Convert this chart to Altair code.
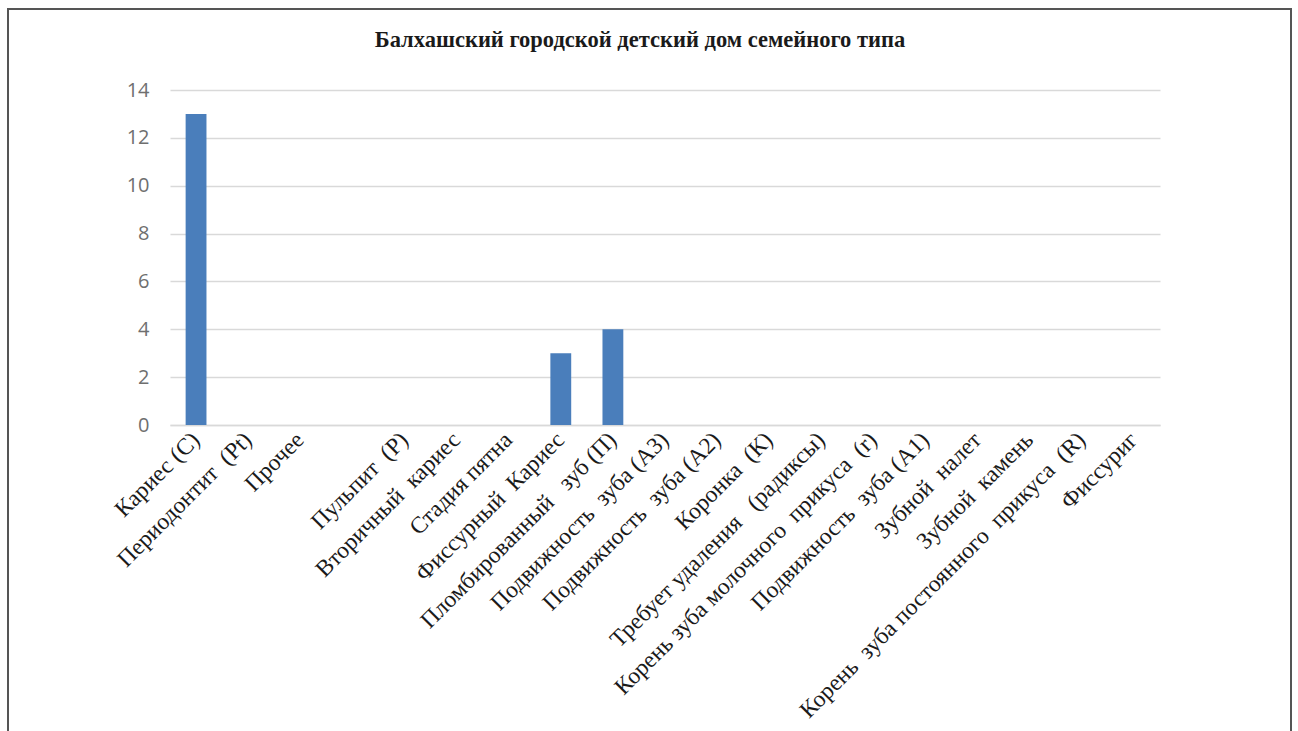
import altair as alt
import pandas as pd

# Diagnoses recorded at the children's home (count of cases)
categories = [
    "Кариес (C)",
    "Периодонтит  (Pt)",
    "Прочее",
    " ",
    "Пульпит  (P)",
    "Вторичный  кариес",
    "Стадия пятна",
    "Фиссурный  Кариес",
    "Пломбированный   зуб (П)",
    "Подвижность  зуба (А3)",
    "Подвижность  зуба (А2)",
    "Коронка  (К)",
    "Требует удаления   (радиксы)",
    "Корень зуба молочного  прикуса  (r)",
    "Подвижность  зуба (А1)",
    "Зубной  налет",
    "Зубной  камень",
    "Корень  зуба постоянного  прикуса  (R)",
    "Фиссуриг",
]
counts = [13, 0, 0, 0, 0, 0, 0, 3, 4, 0, 0, 0, 0, 0, 0, 0, 0, 0, 0]
y_ticks = [0, 2, 4, 6, 8, 10, 12, 14]

# keep the repeated spaces visible in SVG text
labels = [c.replace("  ", " \u00a0") for c in categories]
df = pd.DataFrame({"diagnosis": labels, "count": counts})

W, H = 990, 335
PAD = {"left": 170, "right": 138, "top": 90, "bottom": 306}

bars = alt.Chart(df).mark_bar(color="#4a7ebb", clip=False).encode(
    x=alt.X(
        "diagnosis:N",
        sort=labels,
        scale=alt.Scale(paddingInner=0.6, paddingOuter=0.3),
        axis=alt.Axis(
            title=None,
            labelAngle=-45,
            labelAlign="right",
            labelBaseline="middle",
            labelFont="Liberation Serif",
            labelFontSize=23.5,
            labelColor="#1a1a1a",
            labelPadding=11,
            labelLimit=600,
            ticks=False,
            domain=True,
            domainColor="#d9d9d9",
            domainWidth=1.5,
        ),
    ),
    y=alt.Y(
        "count:Q",
        scale=alt.Scale(domain=[0, 14], nice=False),
        axis=alt.Axis(
            title=None,
            values=y_ticks,
            labelFont="Open Sans",
            labelFontSize=20,
            labelColor="#6f6f6f",
            labelPadding=21,
            ticks=False,
            domain=False,
            gridColor="#d9d9d9",
            gridWidth=1.5,
        ),
    ),
)

# Outer frame around the whole chart area
frame = alt.Chart(df).mark_rect(
    fill=None, stroke="#555555", strokeWidth=1.5, clip=False
).encode(
    x=alt.value(-162),
    x2=alt.value(1121),
    y=alt.value(-81),
    y2=alt.value(700),
)

chart = (
    alt.layer(bars, frame)
    .properties(
        width=W,
        height=H,
        padding=PAD,
        autosize=alt.AutoSizeParams(type="none"),
        background="white",
        title=alt.TitleParams(
            "Балхашский городской детский дом семейного типа",
            font="Liberation Serif",
            fontSize=22.5,
            fontWeight="bold",
            color="#1a1a1a",
            anchor="middle",
            frame="group",
            dx=-25,
            dy=43,
            offset=0,
        ),
    )
    .configure_view(stroke=None)
)

chart.save("out.html", embed_options={"renderer": "svg", "actions": False})
